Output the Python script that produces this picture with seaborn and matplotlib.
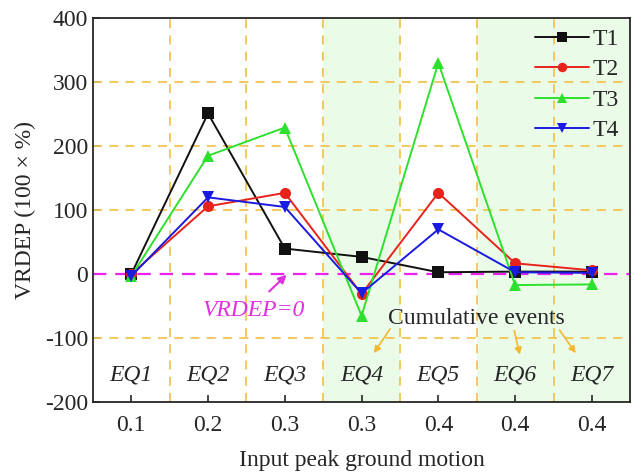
import numpy as np
import pandas as pd
import matplotlib
matplotlib.use("Agg")
import matplotlib.pyplot as plt
import seaborn as sns

# Data
events = ['EQ1', 'EQ2', 'EQ3', 'EQ4', 'EQ5', 'EQ6', 'EQ7']
pga_labels = ['0.1', '0.2', '0.3', '0.3', '0.4', '0.4', '0.4']
t1 = [0, 251, 40, 27, 3, 4, 4]
t2 = [0, 106, 127, -31, 127, 17, 6]
t3 = [-3, 185, 229, -65, 330, -17, -16]
t4 = [-3, 120, 105, -30, 70, 3, 2]

series = {'T1': t1, 'T2': t2, 'T3': t3, 'T4': t4}
colors = {'T1': '#111111', 'T2': '#e8231c', 'T3': '#2ee02e', 'T4': '#1a1ae0'}
markers = {'T1': 's', 'T2': 'o', 'T3': '^', 'T4': 'v'}

rows = []
for name, vals in series.items():
    for i, v in enumerate(vals):
        rows.append({'pos': i, 'value': v, 'series': name})
df = pd.DataFrame(rows)

sns.set_style("ticks")
plt.rcParams['font.family'] = ['Liberation Serif', 'DejaVu Serif']
plt.rcParams['axes.unicode_minus'] = False

fig = plt.figure(figsize=(6.36, 4.76), dpi=100)
ax = fig.add_axes([0.146, 0.155, 0.845, 0.807])

# shaded regions (cumulative events)
shade = '#eafbe8'
ax.axvspan(2.5, 3.5, color=shade, zorder=0, lw=0)
ax.axvspan(4.5, 6.5, color=shade, zorder=0, lw=0)

grid_c = '#f2c450'
for y in [-100, 100, 200, 300]:
    ax.axhline(y, color=grid_c, ls=(0, (5, 4)), lw=1.3, zorder=1)
for x in np.arange(0.5, 6.5, 1):
    ax.axvline(x, color=grid_c, ls=(0, (5, 4)), lw=1.3, zorder=1)
ax.axhline(0, color='#ee22ee', ls=(0, (6, 4)), lw=1.6, zorder=1)

for name in series:
    sub = df[df['series'] == name]
    sns.lineplot(data=sub, x='pos', y='value', ax=ax, color=colors[name],
                 marker=markers[name], markersize=8, markeredgewidth=0,
                 linewidth=1.4, label=name, zorder=3)

ax.set_xlim(-0.5, 6.5)
ax.set_ylim(-200, 400)
ax.set_yticks([-200, -100, 0, 100, 200, 300, 400])
ax.set_xticks(range(len(pga_labels)))
ax.set_xticklabels(pga_labels)
ax.tick_params(direction='in', labelsize=17, length=5, width=1.2)
ax.tick_params(axis='x', pad=9)
for s in ax.spines.values():
    s.set_linewidth(1.3)

ax.set_xlabel('Input peak ground motion', fontsize=17, labelpad=10)
ax.set_ylabel('VRDEP (100 × %)', fontsize=17, labelpad=6)

for i, ev in enumerate(events):
    ax.text(i, -157, ev, ha='center', va='center', fontsize=17,
            style='italic', zorder=4)

ax.text(1.6, -56, 'VRDEP=0', color='#e030e0', fontsize=17, style='italic',
        ha='center', va='center', zorder=4)
ax.annotate('', xy=(2.05, 2), xytext=(1.77, -30),
            arrowprops=dict(arrowstyle='-|>', color='#e030e0', lw=1.5,
                            mutation_scale=12), zorder=4)

ax.text(4.49, -69, 'Cumulative events', fontsize=17, ha='center',
        va='center', zorder=4)
arrow_c = '#f4b830'
for xs, ys, xe, ye in [(3.39, -82, 3.14, -127), (4.98, -84, 5.07, -130),
                       (5.56, -84, 5.81, -127)]:
    ax.annotate('', xy=(xe, ye), xytext=(xs, ys),
                arrowprops=dict(arrowstyle='-|>', color=arrow_c, lw=1.2,
                                mutation_scale=10), zorder=4)

leg = ax.legend(loc='upper right', bbox_to_anchor=(1.005, 1.01),
                frameon=False, fontsize=17, handlelength=2.3,
                labelspacing=0.38, borderaxespad=0.2, handletextpad=0.15,
                markerscale=0.85)

fig.savefig('out.png', dpi=100)
